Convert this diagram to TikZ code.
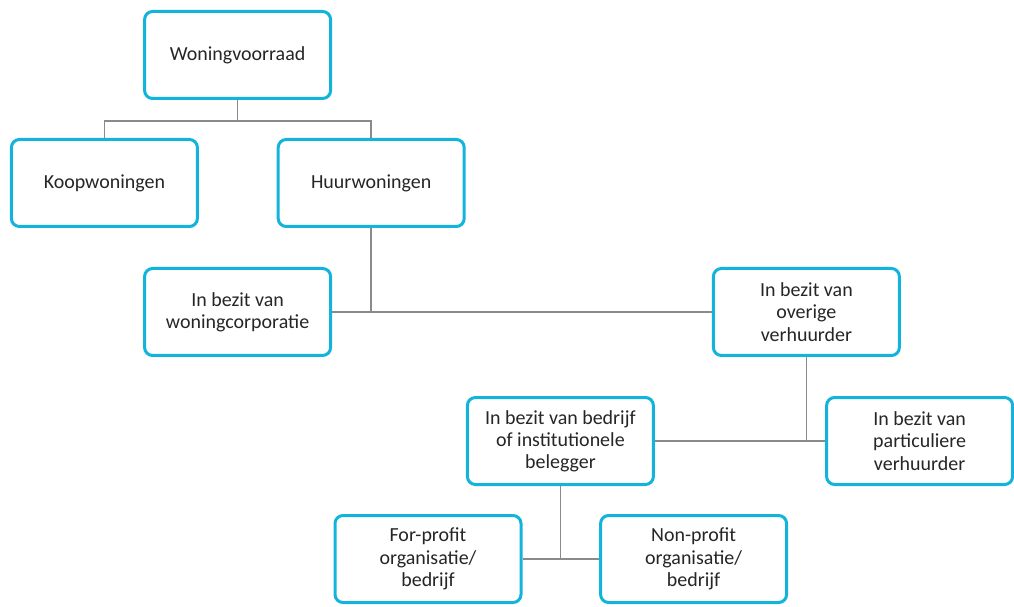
\documentclass[tikz,border=0pt]{standalone}
\usepackage{fontspec}
\setmainfont{Carlito}
\usepackage{xcolor}
\definecolor{boxCyan}{HTML}{13B4DC}
\definecolor{linkGray}{HTML}{8A8A8A}
\definecolor{textDark}{HTML}{262626}

\tikzset{
  stockbox/.style={draw=boxCyan, line width=0.075cm, rounded corners=0.2cm, fill=white,
    minimum width=4.65cm, minimum height=2.175cm, align=center, text=textDark,
    font=\fontsize{14.2}{15.8}\selectfont},
  link/.style={draw=linkGray, line width=0.04cm}
}

\begin{document}
\begin{tikzpicture}
  \useasboundingbox (0cm,0cm) rectangle (25.35cm,15.15cm);
  % boxes
  \node[stockbox] (woning) at (5.94cm,13.775cm) {Woningvoorraad};
  \node[stockbox] (koop) at (2.61cm,10.575cm) {Koopwoningen};
  \node[stockbox] (huur) at (9.28cm,10.575cm) {Huurwoningen};
  \node[stockbox] (corporatie) at (5.94cm,7.35cm) {In bezit van\\woningcorporatie};
  \node[stockbox] (overige) at (20.16cm,7.35cm) {In bezit van\\overige\\verhuurder};
  \node[stockbox] (bedrijf) at (14.01cm,4.125cm) {In bezit van bedrijf\\of institutionele\\belegger};
  \node[stockbox] (particulier) at (22.99cm,4.125cm) {In bezit van\\particuliere\\verhuurder};
  \node[stockbox] (forprofit) at (10.7cm,1.175cm) {For-profit\\organisatie/\\bedrijf};
  \node[stockbox] (nonprofit) at (17.34cm,1.175cm) {Non-profit\\organisatie/\\bedrijf};
  % connectors
  \coordinate (topbar) at (0cm,12.125cm);
  \draw[link] (woning.south) -- (woning.south |- topbar);
  \draw[link] (koop.north) -- (koop.north |- topbar) -- (huur.north |- topbar) -- (huur.north);
  \draw[link] (corporatie.east) -- (overige.west);
  \draw[link] (huur.south) -- (huur.south |- corporatie.east);
  \draw[link] (bedrijf.east) -- (particulier.west);
  \draw[link] (overige.south) -- (overige.south |- bedrijf.east);
  \draw[link] (forprofit.east) -- (nonprofit.west);
  \draw[link] (bedrijf.south) -- (bedrijf.south |- forprofit.east);
\end{tikzpicture}
\end{document}
